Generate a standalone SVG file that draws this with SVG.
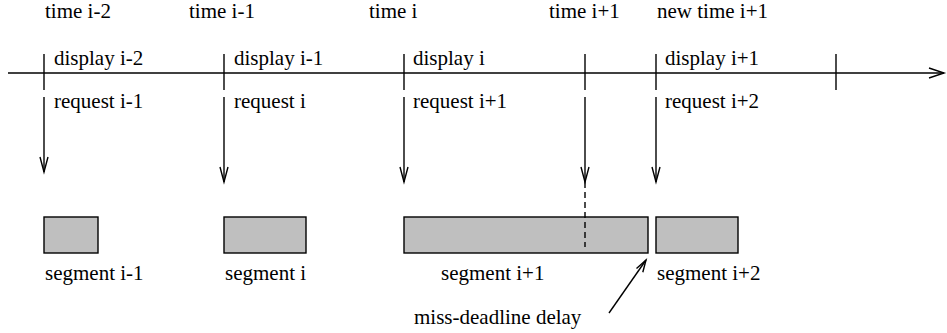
<svg xmlns="http://www.w3.org/2000/svg" width="947" height="333" viewBox="0 0 947 333">
<style>
.ln{stroke:#000;stroke-width:1.4;fill:none}
.seg{fill:#bfbfbf;stroke:#000;stroke-width:1.4}
.ah{stroke:#000;stroke-width:1.4;fill:none}
</style>
<g font-family="Liberation Serif, DejaVu Serif, serif" font-size="21" fill="#000">
<g id="labels-time">
<text x="45" y="18">time i-2</text>
<text x="189" y="18">time i-1</text>
<text x="369" y="18">time i</text>
<text x="549" y="18">time i+1</text>
<text x="657" y="18">new time i+1</text>
</g>
<g id="timeline">
<line class="ln" x1="8" y1="73" x2="944" y2="73"/>
<polyline class="ah" points="929,68 944,73 929,78"/>
<line class="ln" x1="44" y1="54" x2="44" y2="90"/>
<line class="ln" x1="224" y1="54" x2="224" y2="90"/>
<line class="ln" x1="404" y1="54" x2="404" y2="90"/>
<line class="ln" x1="585" y1="54" x2="585" y2="90"/>
<line class="ln" x1="656" y1="54" x2="656" y2="90"/>
<line class="ln" x1="836" y1="54" x2="836" y2="90"/>
</g>
<g id="labels-display">
<text x="54" y="65">display i-2</text>
<text x="234" y="65">display i-1</text>
<text x="413" y="65">display i</text>
<text x="665" y="65">display i+1</text>
</g>
<g id="labels-request">
<text x="54" y="108">request i-1</text>
<text x="234" y="108">request i</text>
<text x="413" y="108">request i+1</text>
<text x="665" y="108">request i+2</text>
</g>
<g id="connectors">
<line class="ln" x1="44" y1="97" x2="44" y2="172"/>
<polyline class="ah" points="40,157 44,172 48,157"/>
<line class="ln" x1="224" y1="97" x2="224" y2="182"/>
<polyline class="ah" points="220,167 224,182 228,167"/>
<line class="ln" x1="404" y1="97" x2="404" y2="182"/>
<polyline class="ah" points="400,167 404,182 408,167"/>
<line class="ln" x1="585" y1="97" x2="585" y2="182"/>
<polyline class="ah" points="581,167 585,182 589,167"/>
<line class="ln" x1="656" y1="97" x2="656" y2="182"/>
<polyline class="ah" points="652,167 656,182 660,167"/>
<line class="ln" x1="609" y1="313" x2="646" y2="260"/>
<polyline class="ah" points="636.5,268.5 646,260 642.8,272.3"/>
</g>
<g id="seg1"><rect class="seg" x="44" y="217" width="54" height="36"/><text x="45" y="280">segment i-1</text></g>
<g id="seg2"><rect class="seg" x="224" y="217" width="82" height="36"/><text x="225" y="280">segment i</text></g>
<g id="seg3"><rect class="seg" x="404" y="217" width="244" height="36"/><text x="441" y="280">segment i+1</text></g>
<line class="ln" x1="585" y1="182" x2="585" y2="247" stroke-dasharray="6,4"/>
<g id="seg4"><rect class="seg" x="656" y="217" width="82" height="36"/><text x="657" y="280">segment i+2</text></g>
<g id="note"><text x="414" y="324">miss-deadline delay</text></g>
</g>
</svg>
